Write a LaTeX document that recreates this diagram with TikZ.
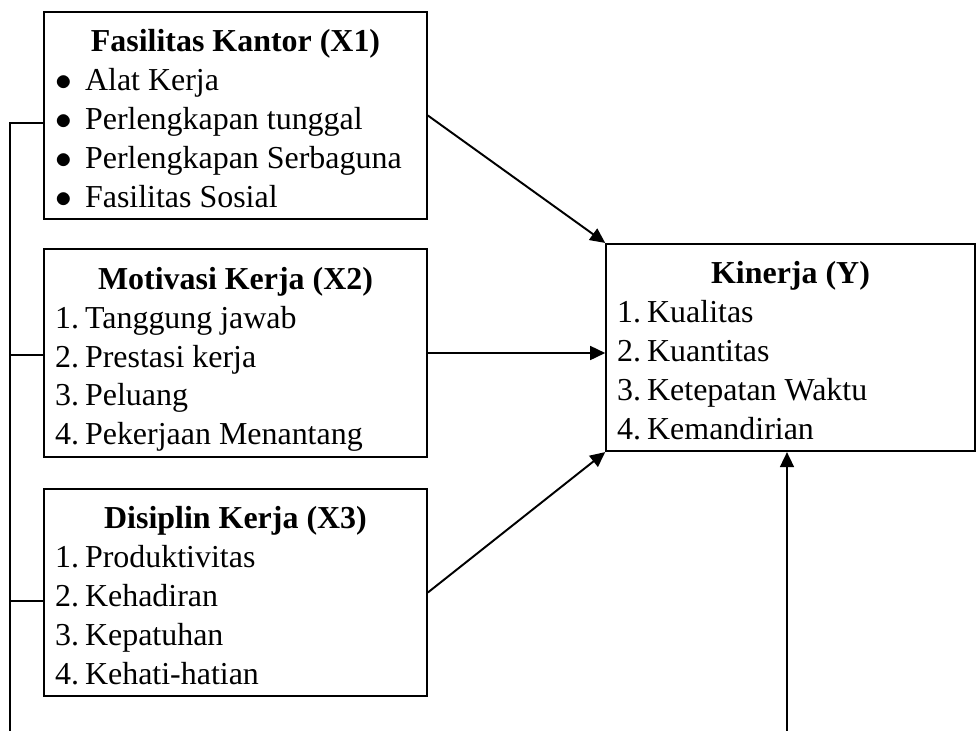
\documentclass[tikz,border=0pt]{standalone}
\usepackage{fontspec}
\setmainfont{Liberation Serif}
\usetikzlibrary{arrows.meta,positioning,calc}

\newlength{\txtw}
\newcommand{\lstitem}[2]{\makebox[\txtw][l]{\makebox[10.8pt][l]{#1}#2}}
\newcommand{\boxtitle}[1]{\makebox[\txtw][c]{\rule{0pt}{14.4pt}\bfseries #1}}

\begin{document}
\begin{tikzpicture}[
  x=0.36pt, y=-0.36pt,
  varbox/.style={draw, line width=0.6pt, inner xsep=4pt, inner ysep=0pt, align=left,
                 minimum width=137.9pt, minimum height=74.5pt,
                 font=\fontsize{11.5}{14}\selectfont,
                 execute at begin node={\setlength{\txtw}{129.9pt}},
                 execute at end node={\rule[-4.3pt]{0pt}{0pt}}},
  ybox/.style={varbox, minimum width=132.8pt,
               execute at begin node={\setlength{\txtw}{124.8pt}}},
  arr/.style={-{Triangle[length=5.4pt,width=5pt]}, line width=0.7pt},
  bus/.style={line width=0.7pt},
]
\useasboundingbox (0,0) rectangle (978,731);

%% Variabel bebas
\node[varbox] (x1) at (235.5,115.5) {\boxtitle{Fasilitas Kantor (X1)}\\
  \lstitem{$\bullet$}{Alat Kerja}\\
  \lstitem{$\bullet$}{Perlengkapan tunggal}\\
  \lstitem{$\bullet$}{Perlengkapan Serbaguna}\\
  \lstitem{$\bullet$}{Fasilitas Sosial}};
\node[varbox] (x2) at (235.5,353) {\boxtitle{Motivasi Kerja (X2)}\\
  \lstitem{1.}{Tanggung jawab}\\
  \lstitem{2.}{Prestasi kerja}\\
  \lstitem{3.}{Peluang}\\
  \lstitem{4.}{Pekerjaan Menantang}};
\node[varbox] (x3) at (235.5,592.5) {\boxtitle{Disiplin Kerja (X3)}\\
  \lstitem{1.}{Produktivitas}\\
  \lstitem{2.}{Kehadiran}\\
  \lstitem{3.}{Kepatuhan}\\
  \lstitem{4.}{Kehati-hatian}};

%% Variabel terikat
\node[ybox] (kin) at (790.5,347.5) {\boxtitle{Kinerja (Y)}\\
  \lstitem{1.}{Kualitas}\\
  \lstitem{2.}{Kuantitas}\\
  \lstitem{3.}{Ketepatan Waktu}\\
  \lstitem{4.}{Kemandirian}};

%% Panah ke kinerja
\draw[arr] (x1.east) -- (kin.north west);
\draw[arr] (x2.east) -- (x2.east -| kin.west);
\draw[arr] (x3.east) -- (kin.south west);

%% Garis simultan
\coordinate (bustop) at (10,123);
\coordinate (busbot) at (10,731);
\coordinate (tick2) at (10,355);
\coordinate (tick3) at (10,601);
\coordinate (ybot) at (787,731);
\draw[bus] (busbot) -- (bustop) -- (bustop -| x1.west);
\draw[bus] (tick2) -- (tick2 -| x2.west);
\draw[bus] (tick3) -- (tick3 -| x3.west);
\draw[arr] (ybot) -- (ybot |- kin.south);

\end{tikzpicture}
\end{document}
